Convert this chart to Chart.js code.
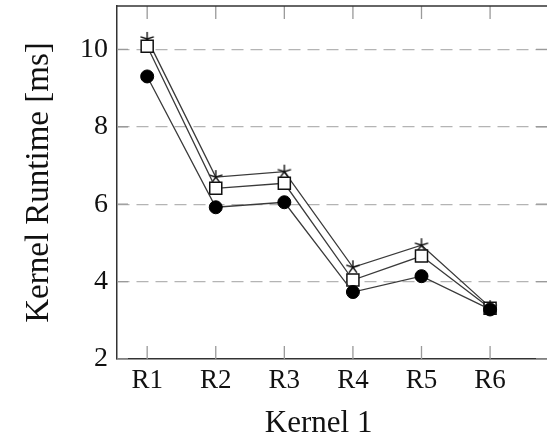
<!DOCTYPE html>
<html>
<head>
<meta charset="utf-8">
<script src="https://cdn.jsdelivr.net/npm/chart.js@4.4.1/dist/chart.umd.min.js"></script>
<style>
  html, body { margin: 0; padding: 0; background: #fff; }
  #wrap { width: 547px; height: 437px; }
</style>
</head>
<body>
<div id="wrap"><canvas id="chart" width="547" height="437"></canvas></div>
<script>
// data
var categories = ['R1', 'R2', 'R3', 'R4', 'R5', 'R6'];
var starValues   = [10.27, 6.70, 6.84, 4.37, 4.94, 3.34];
var squareValues = [10.08, 6.41, 6.54, 4.04, 4.66, 3.31];
var circleValues = [9.30, 5.92, 6.05, 3.73, 4.14, 3.28];
var yTicks = [2, 4, 6, 8, 10];
var xTitle = 'Kernel 1';
var yTitle = 'Kernel Runtime [ms]';

var serif = '"Liberation Serif", "DejaVu Serif", serif';
var lineColor = '#3a3a3a';

function toPoints(values) {
    return values.map(function (v, i) { return { x: i, y: v }; });
}

// 5-armed asterisk like the pgfplots "star" mark
function makeStar(r) {
    var c = document.createElement('canvas');
    var s = Math.ceil(r * 2 + 4);
    c.width = s; c.height = s;
    var g = c.getContext('2d');
    g.strokeStyle = '#111';
    g.lineWidth = 1.4;
    g.beginPath();
    for (var k = 0; k < 5; k++) {
        var a = -Math.PI / 2 + k * 2 * Math.PI / 5;
        g.moveTo(s / 2, s / 2);
        g.lineTo(s / 2 + r * Math.cos(a), s / 2 + r * Math.sin(a));
    }
    g.stroke();
    return c;
}

// frame on top, inward tick marks on all sides, x title centred under the ticks
var framePlugin = {
    id: 'frame',
    beforeDatasetsDraw: function (chart) {
        var ctx = chart.ctx, a = chart.chartArea;
        var xs = chart.scales.x, ys = chart.scales.y;
        ctx.save();
        ctx.strokeStyle = '#9a9a9a';
        ctx.lineWidth = 1.3;
        ctx.beginPath();
        categories.forEach(function (c, i) {
            var px = xs.getPixelForValue(i);
            ctx.moveTo(px, a.bottom); ctx.lineTo(px, a.bottom - 13);
            ctx.moveTo(px, a.top); ctx.lineTo(px, a.top + 13);
        });
        yTicks.forEach(function (v) {
            var py = ys.getPixelForValue(v);
            ctx.moveTo(a.left, py); ctx.lineTo(a.left + 11, py);
            ctx.moveTo(a.right, py); ctx.lineTo(a.right - 11, py);
        });
        ctx.stroke();
        ctx.strokeStyle = '#333';
        ctx.lineWidth = 1.5;
        ctx.beginPath();
        ctx.moveTo(a.left, a.top);
        ctx.lineTo(a.right, a.top);
        ctx.stroke();

        var mid = (xs.getPixelForValue(0) + xs.getPixelForValue(categories.length - 1)) / 2;
        ctx.fillStyle = '#111';
        ctx.font = '31px ' + serif;
        ctx.textAlign = 'center';
        ctx.textBaseline = 'alphabetic';
        ctx.fillText(xTitle, mid, 432);
        ctx.restore();
    }
};

var ctx = document.getElementById('chart').getContext('2d');
var chart = new Chart(ctx, {
    type: 'line',
    data: {
        datasets: [{
            label: 'circle',
            data: toPoints(circleValues),
            borderColor: lineColor,
            borderWidth: 1.3,
            pointStyle: 'circle',
            pointRadius: 6.5,
            pointBackgroundColor: '#000',
            pointBorderColor: '#000',
            pointBorderWidth: 1
        }, {
            label: 'square',
            data: toPoints(squareValues),
            borderColor: lineColor,
            borderWidth: 1.3,
            pointStyle: 'rect',
            pointRadius: 8.5,
            pointBackgroundColor: '#fff',
            pointBorderColor: '#111',
            pointBorderWidth: 1.5
        }, {
            label: 'star',
            data: toPoints(starValues),
            borderColor: lineColor,
            borderWidth: 1.3,
            pointStyle: makeStar(7),
            pointRadius: 7
        }]
    },
    options: {
        responsive: false,
        animation: false,
        events: [],
        layout: { autoPadding: false, padding: { top: 6, right: 0, left: 0, bottom: 0 } },
        plugins: {
            legend: { display: false },
            tooltip: { enabled: false }
        },
        scales: {
            x: {
                type: 'linear',
                min: -0.44,
                max: 5.83,
                afterBuildTicks: function (s) {
                    s.ticks = categories.map(function (c, i) { return { value: i }; });
                },
                afterFit: function (s) {
                    s.height = 78;
                    s.paddingLeft = 0; s.paddingRight = 0;
                },
                ticks: {
                    padding: 6,
                    color: '#111',
                    font: { family: serif, size: 27 },
                    callback: function (v) { return categories[v]; }
                },
                grid: { display: false, drawTicks: false },
                border: { display: true, color: '#333', width: 1.5 },
                title: { display: false }
            },
            y: {
                min: 2,
                max: 11.12,
                afterBuildTicks: function (s) {
                    s.ticks = yTicks.map(function (v) { return { value: v }; });
                },
                afterFit: function (s) {
                    s.width = 117;
                    s.paddingTop = 0; s.paddingBottom = 0;
                },
                ticks: {
                    padding: 9,
                    color: '#111',
                    font: { family: serif, size: 28 }
                },
                grid: {
                    drawTicks: false,
                    color: function (c) { return c.tick && c.tick.value === 2 ? 'rgba(0,0,0,0)' : '#b4b4b4'; },
                    lineWidth: 1.2
                },
                border: { display: true, color: '#333', width: 1.5, dash: [12, 7] },
                title: {
                    display: true,
                    text: yTitle,
                    color: '#111',
                    font: { family: serif, size: 33 },
                    padding: { top: 20, bottom: 0 }
                }
            }
        }
    },
    plugins: [framePlugin]
});
</script>
</body>
</html>
